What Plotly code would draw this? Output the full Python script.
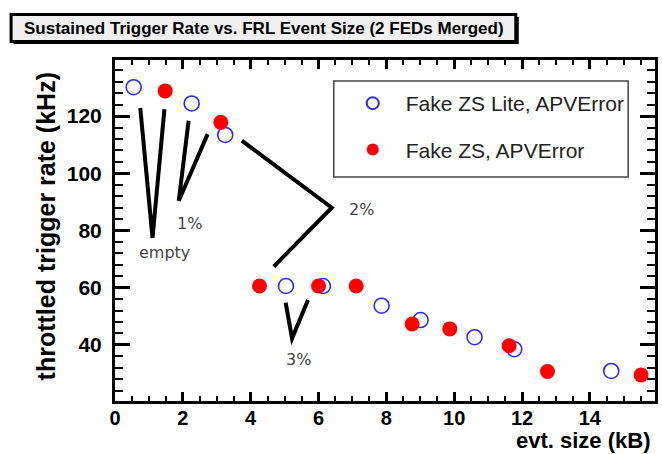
import plotly.graph_objects as go

# Sustained trigger rate measurements, 2 FEDs merged
lite_size_kb = [0.55, 2.26, 3.25, 5.04, 6.13, 7.86, 9.01, 10.6, 11.77, 14.63]
lite_rate_khz = [130.1, 124.4, 113.4, 60.6, 60.6, 53.7, 48.7, 42.7, 38.5, 30.9]
zs_size_kb = [1.48, 3.12, 4.26, 6.0, 7.11, 8.76, 9.87, 11.62, 12.75, 15.51]
zs_rate_khz = [128.8, 117.8, 60.6, 60.6, 60.6, 47.3, 45.6, 39.7, 30.7, 29.5]

series_names = ["Fake ZS Lite, APVError", "Fake ZS, APVError"]
title_text = "Sustained Trigger Rate vs. FRL Event Size (2 FEDs Merged)"
x_title = "evt. size (kB)"
y_title = "throttled trigger rate (kHz)"

# plot-area geometry in pixels (662 x 454 canvas)
L, R, T, B = 115, 658, 60, 401
W, H = R - L, B - T


def px(x):
    return (x - L) / W


def py(y):
    return (B - y) / H


fig = go.Figure()
fig.add_trace(go.Scatter(
    x=lite_size_kb, y=lite_rate_khz, mode="markers", name=series_names[0],
    legendgroup="a",
    marker=dict(symbol="circle-open", size=15, color="#2a2aff",
                line=dict(width=1.6, color="#2a2aff")),
))
fig.add_trace(go.Scatter(
    x=zs_size_kb, y=zs_rate_khz, mode="markers", name=series_names[1],
    legendgroup="b",
    marker=dict(symbol="circle", size=15, color="#ff0000"),
))

# callout lines grouping points by fraction of APV errors
callouts = [
    [(0.745, 122.8), (1.106, 77.4), (1.457, 122.4)],
    [(2.17, 118.4), (1.88, 90.4), (2.73, 113.7)],
    [(3.74, 111.4), (6.39, 88.0), (4.68, 67.4)],
    [(5.03, 54.8), (5.22, 42.3), (5.69, 55.7)],
]
shapes = []
for pts in callouts:
    path = "M {} {}".format(*pts[0]) + "".join(" L {} {}".format(*p) for p in pts[1:])
    shapes.append(dict(type="path", path=path, xref="x", yref="y",
                       line=dict(color="black", width=4)))

# legend frame
shapes.append(dict(type="rect", xref="paper", yref="paper",
                   x0=px(335), x1=px(631), y0=py(177), y1=py(81),
                   line=dict(color="#444444", width=1.5), fillcolor="rgba(0,0,0,0)"))

# title pave with shadow
shapes.append(dict(type="rect", xref="paper", yref="paper",
                   x0=px(13), x1=px(521), y0=py(44), y1=py(17),
                   line=dict(width=0), fillcolor="black", layer="above"))
shapes.append(dict(type="rect", xref="paper", yref="paper",
                   x0=px(10.5), x1=px(518), y0=py(41.5), y1=py(14.5),
                   line=dict(color="black", width=3), fillcolor="#efefef", layer="above"))

label_font = dict(family="DejaVu Sans", size=16, color="#444444")
annotations = [
    dict(x=1.457, y=72.2, text="empty", showarrow=False, font=label_font),
    dict(x=2.21, y=82.5, text="1%", showarrow=False, font=label_font),
    dict(x=7.26, y=87.5, text="2%", showarrow=False, font=label_font),
    dict(x=5.42, y=34.8, text="3%", showarrow=False, font=label_font),
    dict(xref="paper", yref="paper", x=px(264.5), y=py(28.5), text=title_text,
         showarrow=False, xanchor="center", yanchor="middle",
         font=dict(family="Liberation Sans", size=17, color="black", weight="bold")),
    dict(xref="paper", yref="paper", x=px(656), y=py(440.5), text=x_title,
         showarrow=False, xanchor="right", yanchor="middle",
         font=dict(family="Liberation Sans", size=22, color="black", weight="bold")),
    dict(xref="paper", yref="paper", x=px(46), y=py(226), text=y_title,
         showarrow=False, xanchor="center", yanchor="middle", textangle=-90,
         font=dict(family="Liberation Sans", size=25, color="black", weight="bold")),
]

tick_font = dict(family="Liberation Sans", size=21, color="black", weight="bold")
x_tick_font = dict(family="Liberation Sans", size=20, color="black", weight="bold")

fig.update_layout(
    width=662, height=454,
    margin=dict(l=L, r=662 - R, t=T, b=454 - B),
    paper_bgcolor="white", plot_bgcolor="white",
    shapes=shapes, annotations=annotations,
    showlegend=True,
    legend=dict(x=px(341), y=py(83), xanchor="left", yanchor="top",
                bgcolor="rgba(0,0,0,0)", borderwidth=0,
                font=dict(family="Liberation Sans", size=21, color="#222222"),
                traceorder="grouped", tracegroupgap=16, itemsizing="constant",
                itemwidth=56),
    xaxis=dict(range=[0, 15.92], tick0=0, dtick=2, ticks="inside", ticklen=9,
               tickwidth=2.5, tickcolor="black", showline=True, linewidth=3,
               linecolor="black", mirror="allticks", showgrid=False, zeroline=False,
               tickfont=x_tick_font, ticklabelstandoff=-3,
               minor=dict(dtick=0.5, tick0=0, ticks="inside", ticklen=5,
                          tickwidth=2, tickcolor="black", showgrid=False)),
    yaxis=dict(range=[20.4, 139.6], tick0=0, dtick=20, ticks="inside", ticklen=15,
               tickwidth=2.5, tickcolor="black", showline=True, linewidth=3,
               linecolor="black", mirror="allticks", showgrid=False, zeroline=False,
               tickfont=tick_font, ticklabelstandoff=6,
               minor=dict(dtick=4, tick0=0, ticks="inside", ticklen=8,
                          tickwidth=2, tickcolor="black", showgrid=False)),
)

fig.write_html("out.html")
